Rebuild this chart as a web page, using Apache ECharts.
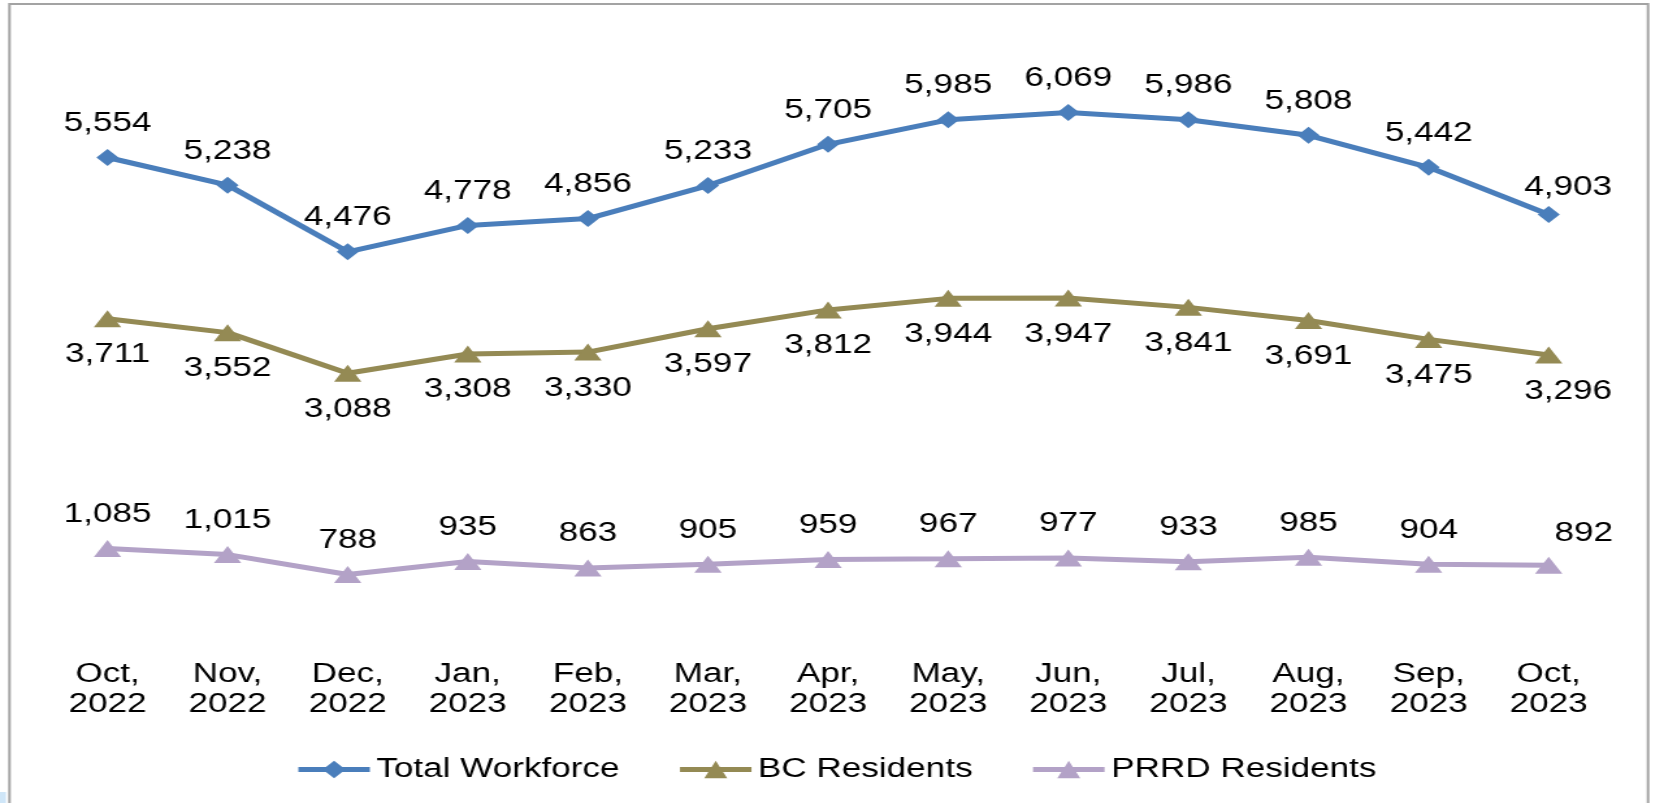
<!DOCTYPE html>
<html>
<head>
<meta charset="utf-8">
<script src="https://cdn.jsdelivr.net/npm/echarts@6/dist/echarts.min.js"></script>
<style>
  html, body { margin: 0; padding: 0; background: #fff; overflow: hidden; }
  /* the source picture is stretched sideways, so the chart is too */
  #chart { width: 1272px; height: 803px; transform: scaleX(1.3); transform-origin: 0 0; }
</style>
</head>
<body>
<div id="chart"></div>
<script>
const months = ["Oct,\n2022", "Nov,\n2022", "Dec,\n2022", "Jan,\n2023", "Feb,\n2023", "Mar,\n2023", "Apr,\n2023",
  "May,\n2023", "Jun,\n2023", "Jul,\n2023", "Aug,\n2023", "Sep,\n2023", "Oct,\n2023"];
const totalWorkforce = [5554, 5238, 4476, 4778, 4856, 5233, 5705, 5985, 6069, 5986, 5808, 5442, 4903];
const bcResidents = [3711, 3552, 3088, 3308, 3330, 3597, 3812, 3944, 3947, 3841, 3691, 3475, 3296];
const prrdResidents = [1085, 1015, 788, 935, 863, 905, 959, 967, 977, 933, 985, 904, 892];

const font = "'Liberation Sans', Arial, sans-serif";
const fmt = (p) => p.value.toLocaleString("en-US");

// last label in each series sits a bit to the right
function withLastOffset(values, offset) {
  return values.map((v, i) =>
    i === values.length - 1 ? { value: v, label: { offset: offset } } : v
  );
}

const chart = echarts.init(document.getElementById("chart"));
const option = {
  backgroundColor: "#fff",
  animation: false,
  textStyle: { fontFamily: font },
  graphic: [
    {
      type: "rect",
      shape: { x: 7.3, y: 4, width: 1260.4, height: 900 },
      style: { fill: "none", stroke: "#a3a3a3", lineWidth: 2 },
    },
    {
      type: "rect",
      shape: { x: 0, y: 792, width: 4.6, height: 11 },
      style: { fill: "#cfe6f8" },
    },
  ],
  grid: { left: 36.5, right: 34.5, top: 31, bottom: 159.6 },
  legend: {
    left: 222,
    top: 751,
    itemWidth: 55,
    itemHeight: 22,
    itemGap: 44,
    lineStyle: { width: 5 },
    textStyle: { fontSize: 27, color: "#000", fontFamily: font },
    data: ["Total Workforce", "BC Residents", "PRRD Residents"],
  },
  xAxis: {
    type: "category",
    data: months,
    axisLine: { show: false },
    axisTick: { show: false },
    axisLabel: {
      margin: 16,
      fontSize: 27,
      lineHeight: 30,
      color: "#000",
      fontFamily: font,
      interval: 0,
    },
  },
  yAxis: {
    type: "value",
    min: 0,
    max: 7000,
    show: false,
    splitLine: { show: false },
  },
  series: [
    {
      name: "Total Workforce",
      type: "line",
      data: withLastOffset(totalWorkforce, [15, 7]),
      symbol: "diamond",
      symbolSize: [17, 17],
      color: "#4a7ebb",
      lineStyle: { width: 5 },
      label: {
        show: true,
        position: "top",
        distance: 12,
        fontSize: 27,
        color: "#000",
        fontFamily: font,
        formatter: fmt,
      },
    },
    {
      name: "BC Residents",
      type: "line",
      data: withLastOffset(bcResidents, [15, 0]),
      symbol: "triangle",
      symbolSize: [21, 17],
      color: "#948a54",
      lineStyle: { width: 5 },
      label: {
        show: true,
        position: "bottom",
        distance: 14,
        fontSize: 27,
        color: "#000",
        fontFamily: font,
        formatter: fmt,
      },
    },
    {
      name: "PRRD Residents",
      type: "line",
      data: withLastOffset(prrdResidents, [27, 2]),
      symbol: "triangle",
      symbolSize: [21, 17],
      color: "#b3a2c7",
      lineStyle: { width: 5 },
      label: {
        show: true,
        position: "top",
        distance: 12,
        fontSize: 27,
        color: "#000",
        fontFamily: font,
        formatter: fmt,
      },
    },
  ],
};
chart.setOption(option);
</script>
</body>
</html>
